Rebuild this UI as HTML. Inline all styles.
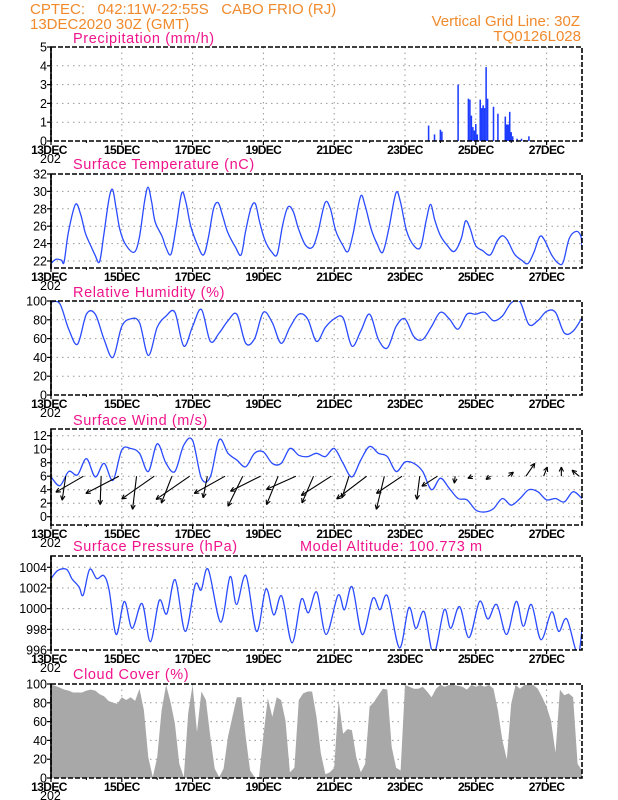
<!DOCTYPE html>
<html><head><meta charset="utf-8">
<style>
html,body{margin:0;padding:0;background:#fff;}
svg{display:block;font-family:"Liberation Sans",sans-serif;}
text{white-space:pre;}
.hdr{fill:#f08a2c;font-size:15px;}
.ttl{fill:#f0148c;font-size:14.5px;letter-spacing:0.6px;}
.tick{fill:#000;font-size:12.5px;}
.xl{fill:#000;font-size:12px;font-weight:bold;letter-spacing:-0.6px;}
</style></head>
<body>
<svg id="chart" width="618" height="800" viewBox="0 0 618 800" xml:space="preserve">
<text class="hdr" x="30" y="14">CPTEC:   042:11W-22:55S   CABO FRIO (RJ)</text>
<text class="hdr" x="30" y="29">13DEC2020 30Z (GMT)</text>
<text class="hdr" x="580" y="26" text-anchor="end">Vertical Grid Line: 30Z</text>
<text class="hdr" x="581" y="41" text-anchor="end">TQ0126L028</text>
<text class="ttl" x="73" y="43">Precipitation (mm/h)</text>
<text class="ttl" x="73" y="169">Surface Temperature (nC)</text>
<text class="ttl" x="73" y="297">Relative Humidity (%)</text>
<text class="ttl" x="73" y="425">Surface Wind (m/s)</text>
<text class="ttl" x="73" y="551">Surface Pressure (hPa)</text>
<text class="ttl" x="300" y="551">Model Altitude: 100.773 m</text>
<text class="ttl" x="73" y="679">Cloud Cover (%)</text>
</svg>
<script>
const dayLabels=["13DEC","15DEC","17DEC","19DEC","21DEC","23DEC","25DEC","27DEC"];
const precipHours=[256,260,264,265,276,283,284,285,286,287,288,289,291,292,293,294,295,296,300,303,308,309,310,311,312,313,316,319,321,324];
const precipValues=[0.82,0.35,0.6,0.5,3.0,2.25,2.2,1.35,0.74,0.56,0.9,0.35,2.2,1.75,1.9,1.75,3.93,2.25,1.82,1.45,1.3,0.88,0.88,1.55,0.47,0.25,0.12,0.12,0.05,0.25];
const tempHours=[0,3.4,7,8.9,11.8,16.6,20.2,23.3,27.4,29.8,32.9,35.8,39.4,41.8,44.2,46.6,50.2,56.2,59.8,63.4,65.8,68.2,70.6,75.4,77.8,81.4,85,88.6,91.4,94.6,99.4,103.4,106.6,110.2,113.3,116.2,119.8,125,128.9,131.8,135.4,138.5,141.4,145,149.8,153.4,157,160.6,164.2,167.8,172.6,177.4,181,185.8,189.4,193,197.8,201.4,205,209.8,212.9,217,221,224.9,229,233.8,236.9,241,245.8,250.6,254.2,257.3,260.2,263.8,268.6,273.4,278.2,281,284.2,287.8,292.6,297.8,302.2,305.8,309.4,314.2,319,323.3,327.4,331.4,334.6,339.4,344.2,347.3,351.4,356.2,359.3,360];
const tempValues=[21.7,22.2,22.1,21.9,25.3,28.5,27.3,25.2,23.6,22.7,21.9,25,29.2,30.2,28,25.7,24,23,24.6,28.8,30.5,28.8,26.5,24.8,23.6,22.8,26.1,29.8,28.8,26.1,23.8,22.7,24.6,28,28.7,27.3,25.3,23.6,22.7,25.3,28,28.6,26.5,24.4,23,22.8,26.1,28.2,27.7,25.7,23.8,23.6,25.3,28.7,28,25.5,23.8,23.1,25.3,29.4,28.4,25.7,24,23,25.7,29.8,28.8,25.5,23.8,23.6,26.5,28.5,26.7,25,23.8,23.1,24.6,26.6,25.7,23.8,23.2,22.7,24.2,24.9,24.4,22.8,22.1,21.7,23,24.8,24.4,22.7,21.7,21.9,24.6,25.4,24.8,23.4];
const rhValues=[99,97,70,54,86,86,59,40,73,81,77,42,72,84,88,52,73,91,57,66,79,86,55,60,88,77,55,72,86,81,57,72,81,82,52,68,86,59,50,73,81,62,59,73,88,81,70,86,86,88,79,84,98,99,75,79,89,88,66,68,82];
const windSpeed=[5.9,4.6,6.7,6.2,8.6,5.9,7.9,5.4,9.9,10.1,9.4,6.7,10.8,7.9,6.7,10.6,11.3,5.7,5.9,11.4,9.4,8.4,7.4,9.4,9.6,7.9,7.9,10.1,9.1,8.9,9.4,8.9,10.1,7.9,5.9,8.4,10.4,9.4,8.9,6.7,8.1,7.9,6.7,4.0,5.7,4.2,2.7,2.5,1.0,0.7,1.2,2.7,1.7,2.7,4.0,3.7,2.5,2.7,2.2,3.7,2.7];
const windU=[-0.9,-6.9,-0.25,-8.25,-1,-8.15,-2.65,-8.4,-1.05,-7.7,-3.7,-7.5,-2.9,-7.35,-2.9,-7.5,-1.75,-7.5,-2,-6.4,-0.75,-3.9,-0.2,-1.25,-1.15,1.3,2.2,0.9,0,-1.75];
const windV=[-6,-4,-7.1,-4.3,-8.3,-5.7,-6.7,-5.8,-5.4,-4.3,-7.5,-3.75,-7.1,-3.3,-6.7,-4.8,-5.4,-5.7,-8.3,-4.3,-5.8,-2.5,-1.75,-0.5,-0.8,1,3.2,2.3,2.3,1.5];
const presHours=[0,4.6,10.6,14.2,19,21.8,26.2,31,35.8,39.4,44.2,49.7,55,61.7,67.4,73.4,78.5,84.2,91,97.7,101.8,106.6,115,121.4,125.8,132.2,139.4,145.7,151,156.5,163.4,169.7,174.5,180.2,186.5,194.6,199,204.2,211,218.2,223,228.2,236.2,242.6,247.4,253,259.4,266.6,271,277,283.4,290.6,296.2,302.2,308.9,315.4,320.2,325.7,332.2,339.4,344.2,349.7,356.9,360];
const presValues=[1002.9,1003.7,1003.8,1002.9,1002.1,1001.3,1003.8,1002.9,1003.2,1001.8,997.5,1000.7,998.1,1000.5,996.8,1000.8,999.5,1002.8,997.8,1002.3,1001.8,1003.8,998.7,1003.1,1000.4,1003.2,997.8,1001.9,999.4,1001.2,996.7,1000.9,999.6,1001.6,997.5,1001.3,999.9,1002.1,997.5,1001,999.9,1001.2,996.2,1000.1,998.1,999.7,995.6,999.9,998.1,1000.2,997.2,1000.7,999,1000.4,997.5,1000.7,998.3,1000.4,997,999.7,997.8,999,995.6,997.9];
const cloudValues=[99,98,96,94,93,91,91,91,93,94,93,89,87,82,80,79,86,83,86,82,95,72,22,1,22,72,99,81,58,15,1,69,99,49,92,83,44,10,1,10,44,65,86,86,44,8,1,1,45,85,65,86,83,61,6,11,83,90,92,92,65,26,4,6,11,83,47,52,51,22,6,15,76,81,88,95,94,33,11,8,99,97,95,95,97,92,86,95,99,97,99,99,98,97,94,99,97,99,97,99,95,72,40,20,79,99,95,99,99,99,95,86,76,61,27,94,88,90,86,15,8];

const svg=document.getElementById('chart');
const NS='http://www.w3.org/2000/svg';
const X0=51,X1=582,HOURS=360;
function xs(h){return X0+(X1-X0)*h/HOURS;}
function mk(tag,attrs,parent){const e=document.createElementNS(NS,tag);for(const k in attrs)e.setAttribute(k,attrs[k]);(parent||svg).appendChild(e);return e;}
function linY(v0,y0,v1,y1){return v=>y0+(v-v0)*(y1-y0)/(v1-v0);}
const panels=[
 {name:'precip',top:47,bot:141,ys:linY(0,141,5,47),ticks:[0,1,2,3,4,5]},
 {name:'temp',top:174,bot:268,ys:linY(22,261,32,174),ticks:[22,24,26,28,30,32]},
 {name:'rh',top:301,bot:395,ys:linY(0,395,100,301),ticks:[0,20,40,60,80,100]},
 {name:'wind',top:429,bot:525,ys:linY(0,516.7,12,435.7),ticks:[0,2,4,6,8,10,12]},
 {name:'pressure',top:556,bot:650,ys:linY(996,650,1004,567.3),ticks:[996,998,1000,1002,1004]},
 {name:'cloud',top:684,bot:778,ys:linY(0,778,100,684),ticks:[0,20,40,60,80,100]}
];
function smooth(pts){let d='M'+pts[0][0].toFixed(1)+','+pts[0][1].toFixed(1);
 for(let i=0;i<pts.length-1;i++){const p0=pts[Math.max(0,i-1)],p1=pts[i],p2=pts[i+1],p3=pts[Math.min(pts.length-1,i+2)];
  const c1x=p1[0]+(p2[0]-p0[0])/6,c1y=p1[1]+(p2[1]-p0[1])/6,c2x=p2[0]-(p3[0]-p1[0])/6,c2y=p2[1]-(p3[1]-p1[1])/6;
  d+=' C'+c1x.toFixed(1)+','+c1y.toFixed(1)+' '+c2x.toFixed(1)+','+c2y.toFixed(1)+' '+p2[0].toFixed(1)+','+p2[1].toFixed(1);}
 return d;}
panels.forEach((p,pi)=>{
 const g=mk('g',{});
 
 
 const clip=mk('clipPath',{id:'clip'+pi},g);
 mk('rect',{x:X0,y:p.top,width:X1-X0,height:p.bot-p.top},clip);
 p.g=g;p.clip='url(#clip'+pi+')';
 p.gridG=mk('g',{},g);
 for(let d=2;d<15;d+=2){const gl=mk('line',{x1:xs(d*24),x2:xs(d*24),y1:p.top,y2:p.bot,stroke:'#999','stroke-dasharray':'1.5,4','stroke-width':1},g);
  }
 p.ticks.forEach(t=>{const y=p.ys(t);
  if(y>p.top+2&&y<p.bot-2){const hl=mk('line',{x1:X0,x2:X1,y1:y,y2:y,stroke:'#999','stroke-dasharray':'1.5,4','stroke-width':1},g);
   }
  mk('line',{x1:X0-4,x2:X0,y1:y,y2:y,stroke:'#000','stroke-width':1.2},g);
  const tl=mk('text',{x:X0-4,y:y+4.5,'text-anchor':'end',class:'tick'},g);tl.textContent=t;
  
 });
 dayLabels.forEach((lab,i)=>{const x=xs(i*48);
  mk('line',{x1:x,x2:x,y1:p.bot,y2:p.bot+4,stroke:'#000','stroke-width':1.2},g);
  const xl=mk('text',{x:x+(i==0?-2:0),y:p.bot+13,'text-anchor':'middle',class:'xl'},g);xl.textContent=lab;
  
 });
 for(let d=1;d<15;d+=2){mk('line',{x1:xs(d*24),x2:xs(d*24),y1:p.bot,y2:p.bot+2,stroke:'#000'},g);}
 const yr=mk('text',{x:40,y:p.bot+22,class:'tick',fill:'#333','font-size':'10px'},g);yr.textContent='202';
 
});
function frame(p){
 mk('rect',{x:X0,y:p.top,width:X1-X0,height:p.bot-p.top,fill:'none',stroke:'#000','stroke-width':1.6,'stroke-dasharray':'5,2'},p.g);
 mk('line',{x1:X0,x2:X0,y1:p.top,y2:p.bot+1,stroke:'#000','stroke-width':1.6},p.g);
}
{const p=panels[0];const bw=(X1-X0)/HOURS*1.05;
 precipHours.forEach((h,i)=>{const y=p.ys(precipValues[i]);
  const b=mk('rect',{x:xs(h)-bw/2,y:y,width:bw,height:p.bot-y,fill:'#1e3cff'},p.g);
  });
 frame(p);}
function drawLine(p,hours,vals,name){
 const pts=hours.map((h,i)=>[xs(h),p.ys(vals[i])]);
 const l=mk('path',{d:smooth(pts),fill:'none',stroke:'#2a4bff','stroke-width':1.3,'clip-path':p.clip},p.g);
 }
drawLine(panels[1],tempHours,tempValues,'temperature-line');frame(panels[1]);
drawLine(panels[2],rhValues.map((v,i)=>i*6),rhValues,'humidity-line');frame(panels[2]);
{const p=panels[3];
 drawLine(p,windSpeed.map((v,i)=>i*6),windSpeed,'wind-speed-line');
 const sc=4,y0=p.ys(6);
 windU.forEach((u,i)=>{const x=xs(10+12*i);const hx=x+u*sc,hy=y0-windV[i]*sc;
  const ag=mk('g',{},p.g);
  
  mk('line',{x1:x,y1:y0,x2:hx,y2:hy,stroke:'#000','stroke-width':1.1},ag);
  const a=Math.atan2(hy-y0,hx-x),L=5;
  [0.45,-0.45].forEach(o=>mk('line',{x1:hx,y1:hy,x2:hx-L*Math.cos(a+o),y2:hy-L*Math.sin(a+o),stroke:'#000','stroke-width':1.1},ag));
 });
 frame(p);}
drawLine(panels[4],presHours,presValues,'pressure-line');frame(panels[4]);
{const p=panels[5];
 let d='M'+X0+','+p.bot;
 cloudValues.forEach((v,i)=>{d+=' L'+xs(i*3).toFixed(1)+','+p.ys(v).toFixed(1);});
 d+=' L'+X1+','+p.bot+' Z';
 const a=mk('path',{d:d,fill:'#a8a8a8',stroke:'none','clip-path':p.clip},p.g);
 
 // redraw grid on top faintly like reference
 frame(p);}
</script>
</body></html>
